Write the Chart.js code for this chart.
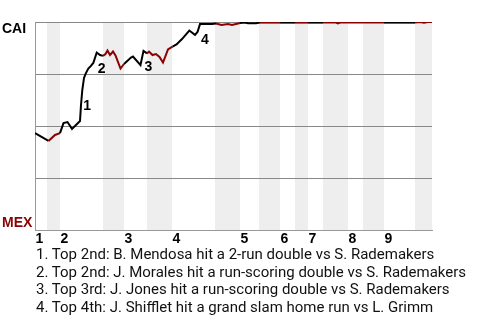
<!DOCTYPE html>
<html><head><meta charset="utf-8">
<script src="https://cdn.jsdelivr.net/npm/chart.js@4/dist/chart.umd.min.js"></script>
<style>
html,body{margin:0;padding:0;background:#fff;}
#wrap{position:relative;width:480px;height:320px;overflow:hidden;}
#c{position:absolute;left:0;top:0;}
#notes{position:absolute;left:36px;top:246px;font:15px Roboto,sans-serif;color:#111;line-height:17.5px;white-space:nowrap;}
</style></head><body>
<div id="wrap"><canvas id="c" width="480" height="320"></canvas>
<div id="notes"></div></div>
<script>
const teams = ['CAI', 'MEX'];
const teamColors = ['#000000', '#8b0000'];
const innings = ['1', '2', '3', '4', '5', '6', '7', '8', '9'];
const inningStart = [0, 25, 89, 137, 205, 245, 273, 313, 349];
const bottomHalves = [[12, 25], [68, 89], [112, 137], [180, 205], [224, 245], [260, 273], [288, 313], [328, 349], [380, 397]];
const gameEnd = 397;
const progress = [0, 13.5, 20, 25, 28.5, 32.5, 37, 45, 46, 47.3, 49, 50.7, 53.3, 55.7, 58.3, 61.7, 65, 68, 70.5, 72.5, 75, 78, 80.5, 85.5, 89, 96, 98, 105.5, 108.5, 112, 114, 117.5, 121, 124.5, 128, 133, 137.5, 141.5, 147, 154.3, 160, 162.5, 165, 169, 177, 181, 186.5, 193, 197, 203, 205, 210, 213, 221, 225, 245, 260, 273, 288, 301, 303, 305, 313, 349, 380, 385, 389, 393, 397];
const winProb = [0.466, 0.428, 0.457, 0.466, 0.514, 0.519, 0.486, 0.524, 0.601, 0.673, 0.731, 0.752, 0.776, 0.788, 0.803, 0.853, 0.841, 0.837, 0.846, 0.863, 0.841, 0.858, 0.839, 0.776, 0.798, 0.829, 0.834, 0.793, 0.861, 0.849, 0.858, 0.841, 0.846, 0.832, 0.805, 0.868, 0.882, 0.892, 0.918, 0.959, 0.938, 0.952, 0.990, 0.990, 0.990, 0.993, 0.986, 0.990, 0.986, 0.993, 0.995, 0.997, 0.994, 0.994, 0.997, 0.997, 0.997, 0.997, 0.997, 0.997, 0.993, 0.997, 0.997, 0.997, 0.997, 1.0, 0.997, 1.0, 1.0];
const eventPoint = [9, 15, 28, 42];
const eventLabels = ['1', '2', '3', '4'];
const eventNotes = [
  '1. Top 2nd: B. Mendosa hit a 2-run double vs S. Rademakers',
  '2. Top 2nd: J. Morales hit a run-scoring double vs S. Rademakers',
  '3. Top 3rd: J. Jones hit a run-scoring double vs S. Rademakers',
  '4. Top 4th: J. Shifflet hit a grand slam home run vs L. Grimm'
];

document.getElementById('notes').innerHTML = eventNotes.map(t => '<div>' + t + '</div>').join('');

function inBottom(x) {
  return bottomHalves.some(([a, b]) => x > a && x < b);
}

const BOLD = 'bold 14px "Liberation Sans", Arial, sans-serif';

const decor = {
  id: 'decor',
  beforeDraw(chart) {
    const {ctx, chartArea, scales} = chart;
    ctx.save();
    ctx.fillStyle = '#eeeeee';
    bottomHalves.forEach(([a, b]) => {
      const x0 = scales.x.getPixelForValue(a), x1 = scales.x.getPixelForValue(b);
      ctx.fillRect(x0, chartArea.top, x1 - x0, chartArea.bottom - chartArea.top);
    });
    ctx.restore();
  },
  afterDraw(chart) {
    const {ctx, chartArea, scales} = chart;
    ctx.save();
    ctx.font = BOLD;
    ctx.textAlign = 'left';
    ctx.textBaseline = 'alphabetic';
    ctx.fillStyle = teamColors[0];
    ctx.fillText(teams[0], 2, scales.y.getPixelForValue(1) + 11);
    ctx.fillStyle = teamColors[1];
    ctx.fillText(teams[1], 2, scales.y.getPixelForValue(0) - 3);
    ctx.fillStyle = '#000';
    innings.forEach((lab, i) => {
      ctx.fillText(lab, scales.x.getPixelForValue(inningStart[i]) + 0.5, chartArea.bottom + 13);
    });
    eventPoint.forEach((idx, i) => {
      const px = scales.x.getPixelForValue(progress[idx]);
      const py = scales.y.getPixelForValue(winProb[idx]);
      ctx.fillText(eventLabels[i], px + 1, py + 20);
    });
    ctx.restore();
  }
};

new Chart(document.getElementById('c'), {
  type: 'scatter',
  data: {
    datasets: [{
      data: progress.map((x, i) => ({x, y: winProb[i]})),
      showLine: true,
      borderWidth: 2,
      borderColor: teamColors[0],
      pointRadius: 0,
      tension: 0,
      segment: {
        borderColor: c => inBottom((c.p0.parsed.x + c.p1.parsed.x) / 2) ? teamColors[1] : teamColors[0]
      }
    }]
  },
  options: {
    responsive: false,
    animation: false,
    events: [],
    layout: {padding: {left: 35, top: 22, right: 48, bottom: 90}},
    plugins: {legend: {display: false}, tooltip: {enabled: false}},
    scales: {
      x: {
        type: 'linear', min: 0, max: gameEnd,
        ticks: {display: false},
        grid: {display: false, drawTicks: false},
        border: {display: true, color: '#999', width: 1}
      },
      y: {
        min: 0, max: 1,
        ticks: {display: false, stepSize: 0.25},
        grid: {color: '#888', drawTicks: false, lineWidth: 1},
        border: {display: true, color: '#999', width: 1}
      }
    }
  },
  plugins: [decor]
});
</script>
</body></html>
